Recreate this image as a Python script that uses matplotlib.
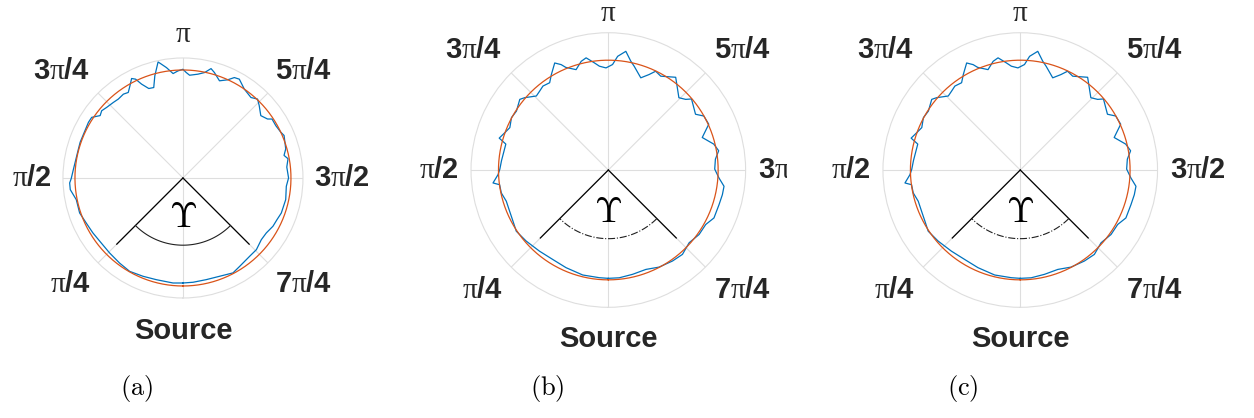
import numpy as np
import matplotlib.pyplot as plt
from matplotlib.transforms import Bbox

plt.rcParams['font.family'] = ['Liberation Sans', 'DejaVu Sans']
plt.rcParams['mathtext.fontset'] = 'custom'
plt.rcParams['mathtext.rm'] = 'Liberation Serif'
plt.rcParams['mathtext.bf'] = 'Liberation Sans:bold'

# angular ticks, measured clockwise from the source direction (bottom)
tick_deg = [0, 45, 90, 135, 180, 225, 270, 315]
tick_labels = ['Source',
               r'$\mathrm{\pi}\mathbf{/4}$',
               r'$\mathrm{\pi}\mathbf{/2}$',
               r'$\mathbf{3}\mathrm{\pi}\mathbf{/4}$',
               r'$\mathrm{\pi}$',
               r'$\mathbf{5}\mathrm{\pi}\mathbf{/4}$',
               r'$\mathbf{3}\mathrm{\pi}\mathbf{/2}$',
               r'$\mathbf{7}\mathrm{\pi}\mathbf{/4}$']

# measured pattern, case (a)
theta_a = [0, 5.4, 14.7, 22.1, 29.7, 36.7, 44.4, 51.5, 58.6, 65.0, 71.3, 78.5,
           84.1, 87.5, 89.7, 94.8, 105.6, 109.2, 120.5, 123.6, 127.0, 129.6,
           132.8, 137.4, 140.7, 144.6, 147.4, 150.1, 152.7, 154.4, 156.2, 159.1,
           162.1, 164.6, 167.9, 171.5, 174.6, 177.3, 180.0, 181.8, 183.7, 188.2,
           191.6, 194.4, 196.6, 200.6, 204.5, 207.1, 209.7, 214.6, 220.2, 223.4,
           226.5, 231.3, 235.1, 236.5, 240.6, 244.9, 247.2, 254.2, 257.4, 259.6,
           264.0, 270.0, 274.6, 281.9, 289.6, 293.9, 298.2, 303.4, 308.2, 314.3,
           319.6, 327.3, 332.2, 339.6, 347.1, 354.5]
r_a = [0.875, 0.879, 0.876, 0.884, 0.896, 0.884, 0.874, 0.870, 0.879, 0.889,
       0.909, 0.907, 0.944, 0.945, 0.931, 0.915, 0.904, 0.907, 0.914, 0.913,
       0.864, 0.879, 0.866, 0.856, 0.850, 0.857, 0.846, 0.886, 0.933, 0.913,
       0.855, 0.798, 0.792, 0.883, 0.989, 0.930, 0.874, 0.893, 0.906, 0.879,
       0.858, 0.874, 0.897, 0.941, 0.917, 0.865, 0.899, 0.940, 0.948, 0.900,
       0.878, 0.905, 0.876, 0.831, 0.859, 0.890, 0.888, 0.900, 0.914, 0.890,
       0.863, 0.890, 0.870, 0.880, 0.864, 0.875, 0.870, 0.857, 0.851, 0.832,
       0.831, 0.855, 0.857, 0.875, 0.894, 0.874, 0.869, 0.873]
fit_a = 0.9

# measured pattern, cases (b) and (c)
theta_b = [0, 4.8, 13.7, 23.4, 31.8, 40.3, 49.1, 56.4, 61.8, 67.3, 73.0, 77.9,
           82.3, 83.6, 87.6, 90.5, 95.0, 104.2, 106.3, 109.9, 113.3, 118.4,
           122.7, 128.6, 130.9, 135.8, 139.0, 142.1, 146.1, 149.2, 153.4, 155.9,
           157.5, 162.2, 166.0, 168.8, 172.6, 175.1, 178.7, 182.3, 184.7, 188.4,
           191.7, 194.0, 199.4, 203.1, 205.6, 209.2, 216.0, 224.3, 227.6, 229.5,
           237.4, 240.5, 245.5, 250.9, 256.2, 260.1, 264.2, 269.5, 274.1, 278.0,
           282.2, 287.3, 294.4, 299.2, 305.4, 312.0, 318.7, 324.8, 332.4, 339.3,
           346.9, 354.2]
r_b = [0.789, 0.787, 0.787, 0.775, 0.767, 0.775, 0.791, 0.805, 0.788, 0.779,
       0.777, 0.797, 0.799, 0.845, 0.804, 0.790, 0.781, 0.770, 0.828, 0.801,
       0.781, 0.802, 0.795, 0.825, 0.805, 0.752, 0.762, 0.775, 0.766, 0.810,
       0.872, 0.841, 0.809, 0.768, 0.816, 0.833, 0.787, 0.759, 0.744, 0.769,
       0.831, 0.874, 0.809, 0.779, 0.712, 0.756, 0.798, 0.783, 0.835, 0.736,
       0.763, 0.797, 0.754, 0.799, 0.804, 0.724, 0.791, 0.816, 0.784, 0.775,
       0.808, 0.851, 0.850, 0.845, 0.845, 0.813, 0.811, 0.792, 0.818, 0.811,
       0.798, 0.774, 0.780, 0.789]
fit_b = 0.8

panels = [
    dict(rect=[0.0502, 0.2871, 0.1914, 0.5742], th=theta_a, r=r_a, fit=fit_a,
         arm=0.78, arc=0.56, sym=0.33, arc_ls='-', top=1.08, bot=1.16,
         cap='(a)', cap_x=137),
    dict(rect=[0.3756, 0.2648, 0.2190, 0.6569], th=theta_b, r=r_b, fit=fit_b,
         arm=0.70, arc=0.50, sym=0.31, arc_ls='-.', top=1.045, bot=1.13,
         cap='(b)', cap_x=547),
    dict(rect=[0.7041, 0.2648, 0.2190, 0.6569], th=theta_b, r=r_b, fit=fit_b,
         arm=0.70, arc=0.50, sym=0.31, arc_ls='-.', top=1.045, bot=1.13,
         cap='(c)', cap_x=963),
]

fig = plt.figure(figsize=(12.54, 4.18), dpi=100)
grid_col = '#dedede'
txt_col = '#262626'

for k, p in enumerate(panels):
    ax = fig.add_axes(p['rect'], projection='polar')
    ax.set_theta_zero_location('S')
    ax.set_theta_direction(-1)
    ax.set_rlim(0, 1)
    ax.set_yticks([])
    ax.set_xticks(np.deg2rad(tick_deg))
    ax.set_xticklabels([])
    ax.tick_params(axis='x', length=0)
    ax.grid(True, color=grid_col, lw=0.8)
    ax.spines['polar'].set_color(grid_col)
    ax.spines['polar'].set_linewidth(0.8)

    # measured pattern and fitted circle
    th = np.deg2rad(np.append(p['th'], 360))
    rr = np.append(p['r'], p['r'][0])
    ax.plot(th, rr, color='#0072BD', lw=0.9)
    t = np.linspace(0, 2 * np.pi, 400)
    ax.plot(t, np.full_like(t, p['fit']), color='#D95319', lw=0.9)

    # beam wedge around the source direction
    for a in (45, -45):
        ax.plot([0, np.deg2rad(a)], [0, p['arm']], color='k', lw=0.9)
    ta = np.deg2rad(np.linspace(-45, 45, 100))
    ax.plot(ta, np.full_like(ta, p['arc']), color='#202020', lw=0.8,
            ls=p['arc_ls'])
    ax.text(0, p['sym'], r'$\Upsilon$', math_fontfamily='cm', fontsize=26,
            ha='center', va='center', color='k')

    # angular labels
    for d, lab in zip(tick_deg, tick_labels):
        rad = np.deg2rad(d)
        ux, uy = -np.sin(rad), -np.cos(rad)
        ha = 'left' if ux > 0.1 else ('right' if ux < -0.1 else 'center')
        va = 'bottom' if uy > 0.1 else ('top' if uy < -0.1 else 'center')
        rl = p['top'] if d == 180 else (p['bot'] if d == 0 else 1.09)
        tx = ax.text(rad, rl, lab, fontsize=21, fontweight='bold',
                     color=txt_col, ha=ha, va=va, clip_on=False)
        if k == 1 and d == 270:
            tx.set_clip_on(True)
            tx.set_clip_box(Bbox.from_extents(0, 0, 787, 418))

    fig.text(p['cap_x'] / 1254, 1 - 388 / 418, r'$\mathrm{' + p['cap'] + '}$',
             math_fontfamily='cm', fontsize=19, ha='center', va='center')

fig.savefig('out.png', dpi=100)
